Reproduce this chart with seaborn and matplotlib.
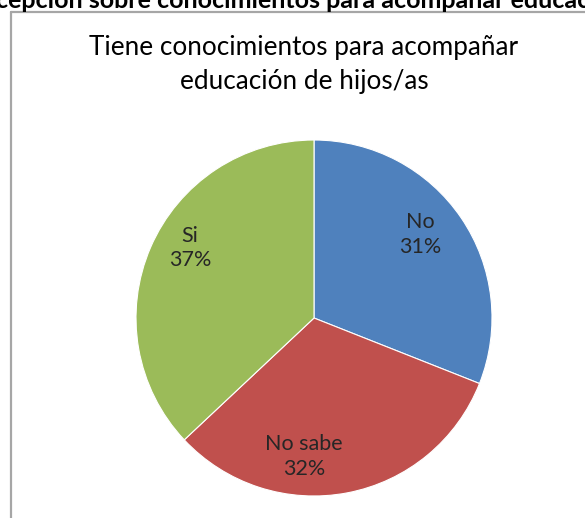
import matplotlib
matplotlib.use("Agg")
import numpy as np
import matplotlib.pyplot as plt
from matplotlib.lines import Line2D
import seaborn as sns

# data
categorias = ["No", "No sabe", "Si"]
porcentajes = [31, 32, 37]
colores = ["#4F81BD", "#C0504D", "#9BBB59"]
titulo = "Tiene conocimientos para acompañar\neducación de hijos/as"
encabezado = "cepción sobre conocimientos para acompañar educac"

# label placement tweaks (degrees off the wedge middle, radius fraction)
giro_etiqueta = [4, -15, -6]
dist_etiqueta = [0.76, 0.78, 0.80]

sns.set_theme(style="white")
plt.rcParams["font.family"] = ["Lato", "DejaVu Sans"]

W, H = 585, 518
fig = plt.figure(figsize=(W / 100, H / 100), dpi=100)
fig.patch.set_facecolor("white")

# cropped heading from the page above the chart
fig.text(0.5, 1 - 8 / H, encabezado, ha="center", va="baseline",
         fontsize=18, fontweight="bold", color="black")

# chart frame (only left and top edges visible)
x0, y0 = 11 / W, 1 - 12 / H
fig.add_artist(Line2D([x0, x0], [0, y0], color="#a6a6a6", lw=1.6))
fig.add_artist(Line2D([x0, 1], [y0, y0], color="#a6a6a6", lw=1.6))

fig.text(304 / W, 1 - 65 / H, titulo, ha="center", va="center",
         fontsize=18.8, color="black", linespacing=1.45)

# pie axes placed around center (314, 318), radius 178 px
cx, cy, r = 314, 318, 178
ax = fig.add_axes([(cx - r) / W, (H - cy - r) / H, 2 * r / W, 2 * r / H])

etiquetas = iter(categorias)


def fmt(pct):
    return f"{next(etiquetas)}\n{pct:.0f}%"


wedges, texts, autotexts = ax.pie(
    porcentajes, colors=colores, startangle=90, counterclock=False,
    autopct=fmt, pctdistance=0.78, radius=1,
    wedgeprops=dict(linewidth=0.8, edgecolor="white"),
    textprops=dict(fontsize=15.5, color="#262626", linespacing=1.3),
)
for w, t, giro, d in zip(wedges, autotexts, giro_etiqueta, dist_etiqueta):
    ang = np.deg2rad((w.theta1 + w.theta2) / 2 + giro)
    t.set_position((d * np.cos(ang), d * np.sin(ang)))

ax.set_xlim(-1, 1)
ax.set_ylim(-1, 1)
ax.set_aspect("equal")
ax.axis("off")

fig.savefig("out.png", dpi=100, facecolor="white")
